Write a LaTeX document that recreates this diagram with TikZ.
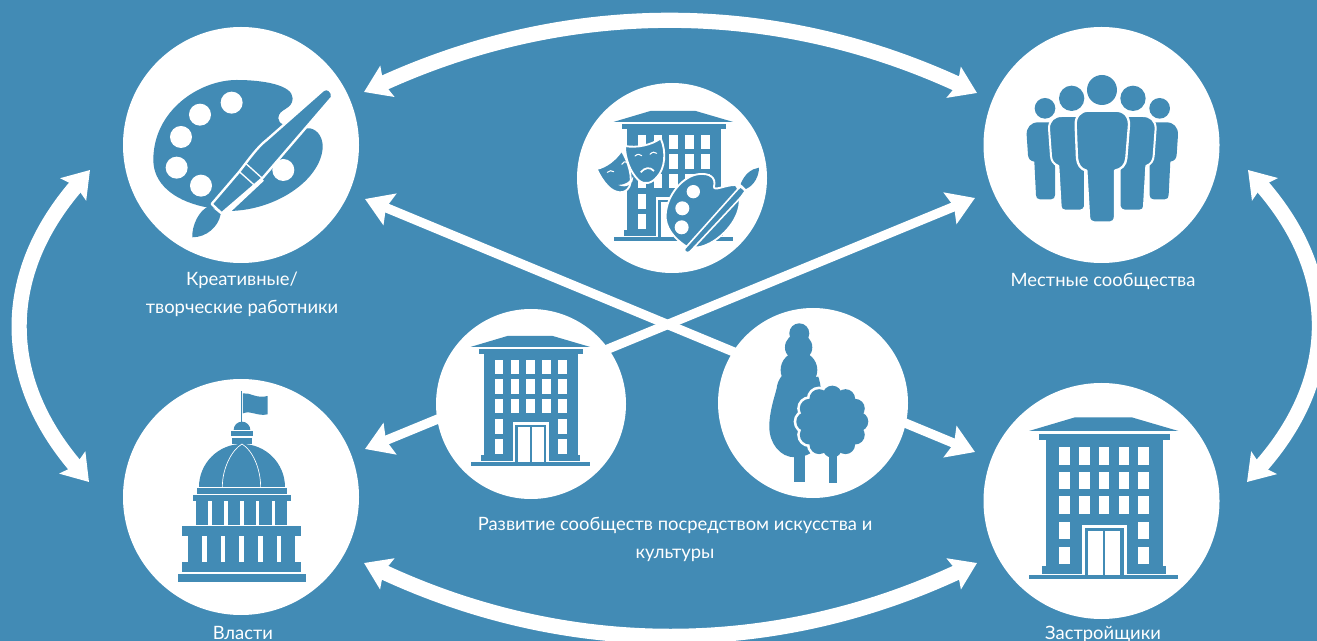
\documentclass[tikz,border=0pt]{standalone}
\usepackage{fontspec}
\setmainfont{Lato}
\usetikzlibrary{arrows.meta}
\definecolor{bgblue}{RGB}{66,139,181}
\tikzset{
  hubbig/.style={circle,fill=white,minimum size=177pt,inner sep=0pt},
  hubsmall/.style={circle,fill=white,minimum size=142.5pt,inner sep=0pt},
  bigarrow/.style={draw=white,line width=11.4pt,{Stealth[length=19pt,width=25pt,inset=3pt]}-{Stealth[length=19pt,width=25pt,inset=3pt]}},
  diagarrow/.style={draw=white,line width=7pt,{Stealth[length=20pt,width=25pt,inset=3pt]}-{Stealth[length=20pt,width=25pt,inset=3pt]}},
  lbl/.style={text=white,align=center,inner sep=0pt,font=\fontsize{13.8}{21}\selectfont},
  ink/.style={fill=bgblue,draw=none},
  blank/.style={fill=white,draw=none},
  halo/.style={fill=bgblue,draw=white,line join=round},
}
% building, origin at the middle of the roof top; units: 1/3 px at scale 1/3
\newcommand\iconBuilding{%
  \path[ink] (-224,41)--(-86,0)--(84,0)--(224,41)--cycle;
  \path[ink] (-194,49) rectangle (198,68);
  \path[ink] (-174,68) rectangle (179,446);
  \path[ink] (-184,446) rectangle (188,469);
  \path[ink] (-224,474) rectangle (224,486);
  \foreach \wx in {-133,-74,-15,45,104}{
    \foreach \wy in {89,163,237}{
      \path[blank] (\wx,\wy) rectangle +(32,53);}}
  \foreach \wx in {-133,104}{
    \foreach \wy in {313,388}{
      \path[blank] (\wx,\wy) rectangle +(32,53);}}
  \path[blank] (-66,323) rectangle (70,474);
  \path[ink] (-56,333) rectangle (60,474);
  \path[blank] (-46,341) rectangle (-1,474);
  \path[blank] (5,341) rectangle (50,474);
}
\newcommand\figOuter{%
  \fill[bgblue] (210,235) circle (31);
  \path[ink] (190,277) -- (235,277) -- (240,410) -- (240,495)
    .. controls (240,503) and (236,508) .. (228,508) -- (195,508)
    .. controls (187,508) and (183,503) .. (183,495) -- (178,395)
    .. controls (165,393) and (160,385) .. (159,375) -- (155,315)
    .. controls (154,292) and (168,277) .. (190,277) -- cycle;
}
\newcommand\figMiddle{%
  \fill[bgblue] (290,205) circle (38);
  \path[halo,line width=1.5pt] (260,258) -- (330,258) -- (330,530)
    .. controls (328,538) and (322,542) .. (315,542) -- (270,542)
    .. controls (262,542) and (257,537) .. (257,530) -- (250,408)
    .. controls (235,402) and (229,392) .. (228,378) -- (222,295)
    .. controls (222,272) and (238,258) .. (260,258) -- cycle;
}
\begin{document}
\begin{tikzpicture}[x=0.75pt,y=-0.75pt]
\useasboundingbox (0,0) rectangle (1317,641);
\clip (0,0) rectangle (1317,641);
\fill[bgblue] (0,0) rectangle (1317,641);

% ports of the connectors
\coordinate (crE) at (364,92);
\coordinate (loW) at (977,93);
\coordinate (crS) at (90,170);
\coordinate (auN) at (89,482);
\coordinate (loS) at (1248,170);
\coordinate (deN) at (1247,482);
\coordinate (auE) at (364,563);
\coordinate (deW) at (977,563);
\coordinate (crD) at (365,199);
\coordinate (deD) at (975,452);
\coordinate (loD) at (975,198);
\coordinate (auD) at (365,449);

\draw[bigarrow] (crE) .. controls (568,-1) and (773,-1) .. (loW);
\draw[bigarrow] (auE) .. controls (568,658) and (773,658) .. (deW);
\draw[bigarrow] (crS) .. controls (0,274) and (0,378) .. (auN);
\draw[bigarrow] (loS) .. controls (1339,274) and (1339,378) .. (deN);
\draw[diagarrow] (crD) -- (deD);
\draw[diagarrow] (loD) -- (auD);

\node[hubbig] (creative) at (241,145) {};
\node[hubbig] (local) at (1101.5,145) {};
\node[hubbig] (authorities) at (241,497) {};
\node[hubbig] (developers) at (1101.5,501) {};
\node[hubsmall] (culture) at (672,178) {};
\node[hubsmall] (house) at (531,404) {};
\node[hubsmall] (trees) at (813,403) {};

% creative workers: palette and brush
\begin{scope}[shift={(110,30)},scale=0.3333]
  \path[ink] (280,530) .. controls (190,510) and (130,460) .. (130,390)
    .. controls (130,240) and (270,150) .. (380,150)
    .. controls (460,150) and (548,165) .. (548,205)
    .. controls (548,240) and (505,235) .. (505,265)
    .. controls (505,285) and (530,285) .. (560,295)
    -- (600,295) .. controls (625,300) and (640,325) .. (638,355)
    .. controls (630,450) and (500,540) .. (360,543) -- cycle;
  \foreach \dx/\dy in {365/218,270/254,213/321,200/413,273/467,520/420}
    \fill[white] (\dx,\dy) circle (33);
  \draw[white,line width=5pt] (610,235) -- (460,415);
  \draw[white,line width=5pt] (455,445) -- (345,548);
  \path[halo,line width=1.75pt]
    (640,180) .. controls (652,170) and (670,185) .. (666,202)
    -- (457,445) -- (335,550) -- (305,522) -- (388,425) -- (407,400)
    .. controls (430,370) and (450,345) .. (470,330) -- cycle;
  \draw[white,line width=1pt] (407,400) -- (457,445);
  \draw[white,line width=1pt] (388,425) -- (435,467);
  \draw[white,line width=1pt] (305,522) -- (335,550);
  \path[ink] (300,527) .. controls (265,540) and (245,590) .. (247,622)
    .. controls (290,622) and (325,590) .. (332,553) -- cycle;
\end{scope}

% central building with masks and palette
\begin{scope}[shift={(673.3,111)},scale=0.2667]
  \iconBuilding
\end{scope}
\begin{scope}[shift={(570,85)},scale=0.3333]
  % back mask
  \path[halo,line width=1.4pt] (80,252) .. controls (110,245) and (135,225) .. (155,197)
    .. controls (175,230) and (190,280) .. (178,305)
    .. controls (165,330) and (135,325) .. (115,305)
    .. controls (100,290) and (88,270) .. (80,252) -- cycle;
  \draw[white,line width=.8pt,line cap=round] (112,262) .. controls (118,256) and (125,256) .. (131,260);
  \draw[white,line width=.8pt,line cap=round] (155,238) .. controls (160,230) and (166,228) .. (172,232);
  \path[blank] (145,300) .. controls (165,300) and (180,290) .. (190,275)
    .. controls (192,295) and (170,312) .. (145,300) -- cycle;
  % front mask
  \path[halo,line width=1.4pt] (165,183) .. controls (200,190) and (245,180) .. (272,160)
    .. controls (290,200) and (285,250) .. (262,275)
    .. controls (245,295) and (225,302) .. (205,285)
    .. controls (180,260) and (165,220) .. (165,183) -- cycle;
  \draw[white,line width=.8pt,line cap=round] (195,213) .. controls (203,206) and (210,207) .. (215,212);
  \draw[white,line width=.8pt,line cap=round] (240,208) .. controls (247,200) and (255,200) .. (260,205);
  \draw[white,line width=1.3pt] (212,262) .. controls (225,247) and (240,245) .. (252,258);
  % palette
  \path[halo,line width=1.4pt] (350,485) .. controls (310,460) and (285,425) .. (287,390)
    .. controls (290,330) and (340,270) .. (390,267)
    .. controls (415,265) and (440,275) .. (432,305)
    .. controls (430,320) and (465,300) .. (495,300)
    .. controls (505,300) and (515,345) .. (505,375)
    .. controls (490,430) and (430,480) .. (385,487) -- cycle;
  \fill[white] (370,320) circle (20);
  \fill[white] (337,370) circle (21);
  \fill[white] (335,427) circle (21);
  \path[halo,line width=1.2pt] (345,490) -- (495,322) .. controls (500,316) and (506,310) .. (512,305)
    -- (526,318) .. controls (520,325) and (515,335) .. (505,345)
    -- (360,500) .. controls (352,508) and (338,498) .. (345,490) -- cycle;
  \path[ink] (512,297) .. controls (525,265) and (545,252) .. (567,248)
    .. controls (567,270) and (555,300) .. (528,312) -- cycle;
\end{scope}

% local communities: people
\begin{scope}[shift={(975,30)},scale=0.3333]
  \figOuter
  \begin{scope}[shift={(764,0)},xscale=-1]\figOuter\end{scope}
  \figMiddle
  \begin{scope}[shift={(764,0)},xscale=-1]\figMiddle\end{scope}
  \fill[bgblue] (381,180) circle (45);
  \path[halo,line width=1.75pt] (340,242) -- (422,242)
    .. controls (448,242) and (463,260) .. (462,285)
    -- (454,385) .. controls (452,405) and (440,418) .. (420,422)
    -- (420,560) .. controls (420,572) and (412,578) .. (405,578)
    -- (358,578) .. controls (350,578) and (342,572) .. (342,560)
    -- (334,422) .. controls (318,418) and (308,405) .. (306,385)
    -- (302,285) .. controls (301,260) and (316,242) .. (340,242) -- cycle;
\end{scope}

% authorities: capitol
\begin{scope}[shift={(115,375)},scale=0.3333]
  \draw[bgblue,line width=1.25pt] (380,48) -- (380,145);
  \path[ink] (384,55) .. controls (405,52) and (425,72) .. (458,63)
    -- (458,118) .. controls (425,125) and (410,105) .. (384,115) -- cycle;
  \path[ink] (356,165) arc (180:360:25) -- cycle;
  \path[ink] (348,168) rectangle (414,184);
  \path[ink] (351,188) rectangle (410,207);
  \path[ink] (252,336) .. controls (252,265) and (310,207) .. (381,207)
    .. controls (452,207) and (510,265) .. (510,336) -- cycle;
  \draw[white,line width=.5pt] (322,336) .. controls (322,280) and (350,225) .. (381,207);
  \draw[white,line width=.5pt] (437,336) .. controls (437,280) and (412,225) .. (381,207);
  \path[ink] (245,339) rectangle (517,357);
  \path[ink] (235,360) rectangle (527,378);
  \path[ink] (244,378) rectangle (516,450);
  \foreach \sx in {280,327,375,422,470}
    \path[blank] (\sx,378) rectangle +(11,72);
  \path[ink] (202,453) rectangle (557,482);
  \path[ink] (219,482) rectangle (541,562);
  \foreach \sx in {261,317,373,429,485}
    \path[blank] (\sx,482) rectangle +(14,80);
  \path[ink] (202,562) rectangle (557,591);
  \path[ink] (188,597) rectangle (572,621);
\end{scope}

% developers and house: buildings
\begin{scope}[shift={(1103.67,417.33)},scale=0.3333]
  \iconBuilding
\end{scope}
\begin{scope}[shift={(530.33,336)},scale=0.2667]
  \iconBuilding
\end{scope}

% trees
\begin{scope}[shift={(430,300)},scale=0.3333]
  \path[ink] (1092,465) rectangle (1125,547);
  \fill[bgblue] (1108,100) circle (30);
  \fill[bgblue] (1106,142) circle (41);
  \fill[bgblue] (1107,210) circle (55);
  \fill[bgblue] (1105,270) circle (65);
  \path[ink] (1018,380) .. controls (1018,340) and (1030,300) .. (1045,250)
    -- (1165,230) .. controls (1172,250) and (1180,300) .. (1180,380)
    .. controls (1180,430) and (1150,472) .. (1095,472)
    .. controls (1050,472) and (1018,430) .. (1018,380) -- cycle;
  \foreach \ang in {0,30,...,330}
    \fill[white] (1207,365) ++(\ang:79) circle (37);
  \fill[white] (1207,365) circle (80);
  \path[ink] (1198,440) rectangle (1222,548);
  \foreach \ang in {0,30,...,330}
    \fill[bgblue] (1207,365) ++(\ang:79) circle (29);
  \fill[bgblue] (1207,365) circle (82);
\end{scope}

% labels
\node[lbl] (lcreative) at (242,294) {Креативные/\\творческие работники};
\node[lbl] (llocal) at (1103,281) {Местные сообщества};
\node[lbl,anchor=base] (lauth) at (243,639) {Власти};
\node[lbl,anchor=base] (ldev) at (1103,639) {Застройщики};
\node[lbl] (lcult) at (675,539) {Развитие сообществ посредством искусства и\\культуры};
\end{tikzpicture}
\end{document}
